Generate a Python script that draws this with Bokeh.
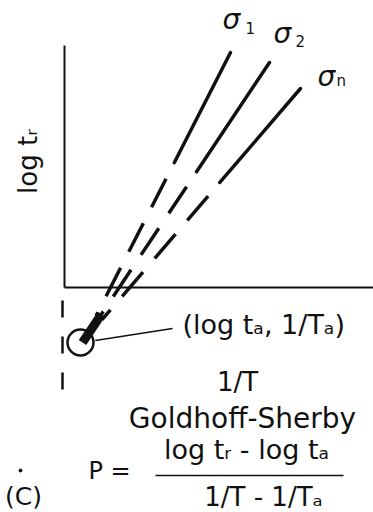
import numpy as np
from bokeh.plotting import figure
from bokeh.models import Range1d
from bokeh.embed import file_html
from bokeh.resources import INLINE
from bokeh.core.properties import value

# Schematic Goldhoff-Sherby plot: log t_r against 1/T, iso-stress lines
# converging on the point (log t_a, 1/T_a).

# convergence point (1/T_a, log t_a), plotted below/right of the origin
anchor_x = 18
anchor_y = -55

# upper ends of the iso-stress lines (sigma_1, sigma_2, sigma_n)
stress_subs = ["1", "2", "n"]
line_top_x = [166, 205, 236]
line_top_y = [235, 225, 199]
# fraction of each line (measured from the anchor) where the solid part begins
solid_from = [0.62, 0.61, 0.63]

# axis extents
x_axis_end = 309
y_axis_end = 242

INK = "#111111"
FONT = value("DejaVu Sans")
LIFT = 9  # text baseline correction for ~26px text

p = figure(width=373, height=512,
           x_range=Range1d(-64, 309), y_range=Range1d(-225, 287),
           x_axis_type=None, y_axis_type=None,
           toolbar_location=None, output_backend="svg", min_border=0)
p.grid.visible = False
p.outline_line_color = None
p.background_fill_color = "white"
p.border_fill_color = "white"

# axes drawn as plain strokes
p.line([0, 0], [0, y_axis_end], line_color=INK, line_width=2)
p.line([0, x_axis_end], [0, 0], line_color=INK, line_width=2)
# dashed continuation of the log t axis below the 1/T axis
p.line([-2, -2], [-13, -103], line_color=INK, line_width=2.5, line_dash="17 19")

# iso-stress lines
dirs = []
for tx, ty, f in zip(line_top_x, line_top_y, solid_from):
    d = np.array([tx - anchor_x, ty - anchor_y], dtype=float)
    L = np.hypot(*d)
    u = d / L
    dirs.append(u)
    sx, sy = anchor_x + u[0] * L * f, anchor_y + u[1] * L * f
    p.line([sx, tx], [sy, ty], line_color=INK, line_width=3.5, line_cap="round")
    ex, ey = anchor_x + u[0] * 30, anchor_y + u[1] * 30
    p.line([sx, ex], [sy, ey], line_color=INK, line_width=3.5,
           line_dash="32 18", line_dash_offset=32)

# merged stub of the lines going into the convergence point
um = np.mean(dirs, axis=0)
um /= np.hypot(*um)
p.line([anchor_x, anchor_x + um[0] * 34], [anchor_y, anchor_y + um[1] * 34],
       line_color=INK, line_width=9, line_cap="butt")

# circle marking (log t_a, 1/T_a) and its leader line
r = 13
p.circle(x=[anchor_x - 2], y=[anchor_y], radius=r, fill_color=None,
         line_color=INK, line_width=2.5)
lab_x, lab_y = 108, -41
v = np.array([lab_x - anchor_x, lab_y - anchor_y], dtype=float)
v /= np.hypot(*v)
p.line([anchor_x + v[0] * r, lab_x], [anchor_y + v[1] * r, lab_y],
       line_color=INK, line_width=1.5)

# stress labels
sig_x = [158, 209, 253]
sig_y = [259 + LIFT, 245 + LIFT, 202 + LIFT]
sub_x = [181, 231, 272]
sub_y = [255 + 5, 242 + 5, 202 + 5]
p.text(x=sig_x, y=sig_y, text=["σ"] * 3, text_font=FONT, text_font_style="italic",
       text_font_size="28px", text_color=INK, text_baseline="alphabetic")
p.text(x=sub_x, y=sub_y, text=stress_subs, text_font=FONT,
       text_font_size="15px", text_color=INK, text_baseline="alphabetic")

def label(x, y, s, size="26px", align="left", angle=0.0):
    p.text(x=[x], y=[y], text=[s], text_font=FONT, text_font_size=size,
           text_color=INK, text_align=align, text_baseline="alphabetic", angle=angle)

label(-28 - LIFT, 126, "log tᵣ", align="center", angle=np.pi / 2)
label(118, -46 + LIFT, "(log tₐ, 1/Tₐ)", size="27px")
label(173, -103 + LIFT, "1/T", align="center")
label(178, -140 + LIFT, "Goldhoff-Sherby", size="28px", align="center")
label(24, -196 + LIFT + 4, "P =", size="24px")
label(182, -171 + LIFT, "log tᵣ - log tₐ", size="27px", align="center")
p.line([91, 279], [-188, -188], line_color=INK, line_width=1.5)
label(199, -218 + LIFT, "1/T - 1/Tₐ", size="26px", align="center")
label(-41, -218 + LIFT, "(C)", size="25px", align="center")
p.scatter(x=[-44], y=[-183], size=3, color=INK)

open("out.html", "w").write(file_html(p, INLINE))
